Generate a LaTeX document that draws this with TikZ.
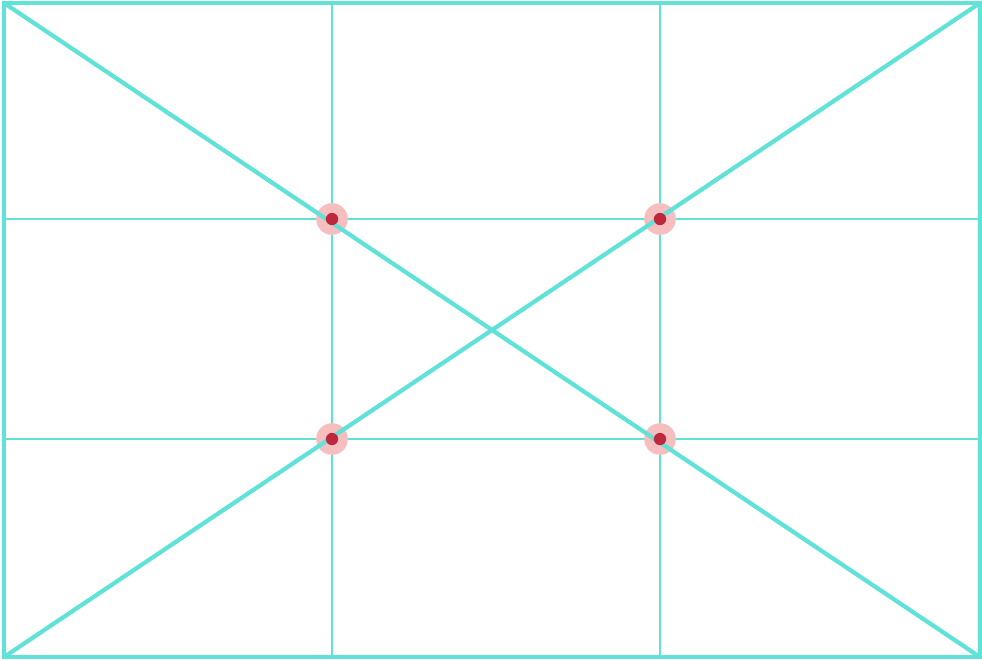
\documentclass[tikz,border=0pt]{standalone}
\definecolor{gridc}{RGB}{96,226,216}
\definecolor{halo}{RGB}{246,190,190}
\definecolor{dotc}{RGB}{190,40,60}
\tikzset{
  frame/.style={draw=gridc, line width=2.4pt},
  gridline/.style={draw=gridc, line width=1.3pt},
  diag/.style={draw=gridc, line width=2.4pt},
  pt/.style={circle, fill=halo, minimum size=18pt, inner sep=0pt},
  core/.style={circle, fill=dotc, minimum size=7pt, inner sep=0pt}
}
\begin{document}
\begin{tikzpicture}[x=0.02cm,y=-0.02cm]
\useasboundingbox (0,0) rectangle (982,660);
\fill[white] (0,0) rectangle (982,660);
\coordinate (tl) at (4,3);
\coordinate (tr) at (980,3);
\coordinate (br) at (980,657);
\coordinate (bl) at (4,657);
\coordinate (v1t) at (332,3);
\coordinate (v1b) at (332,657);
\coordinate (v2t) at (660,3);
\coordinate (v2b) at (660,657);
\coordinate (h1l) at (4,219);
\coordinate (h1r) at (980,219);
\coordinate (h2l) at (4,439);
\coordinate (h2r) at (980,439);
\path[gridline] (v1t) -- (v1b);
\path[gridline] (v2t) -- (v2b);
\path[gridline] (h1l) -- (h1r);
\path[gridline] (h2l) -- (h2r);
\node[pt] (p1) at (332,219) {};
\node[pt] (p2) at (660,219) {};
\node[pt] (p3) at (332,439) {};
\node[pt] (p4) at (660,439) {};
\path[diag] (tl) -- (br);
\path[diag] (bl) -- (tr);
\node[core] at (p1) {};
\node[core] at (p2) {};
\node[core] at (p3) {};
\node[core] at (p4) {};
\path[frame] (tl) rectangle (br);
\end{tikzpicture}
\end{document}
